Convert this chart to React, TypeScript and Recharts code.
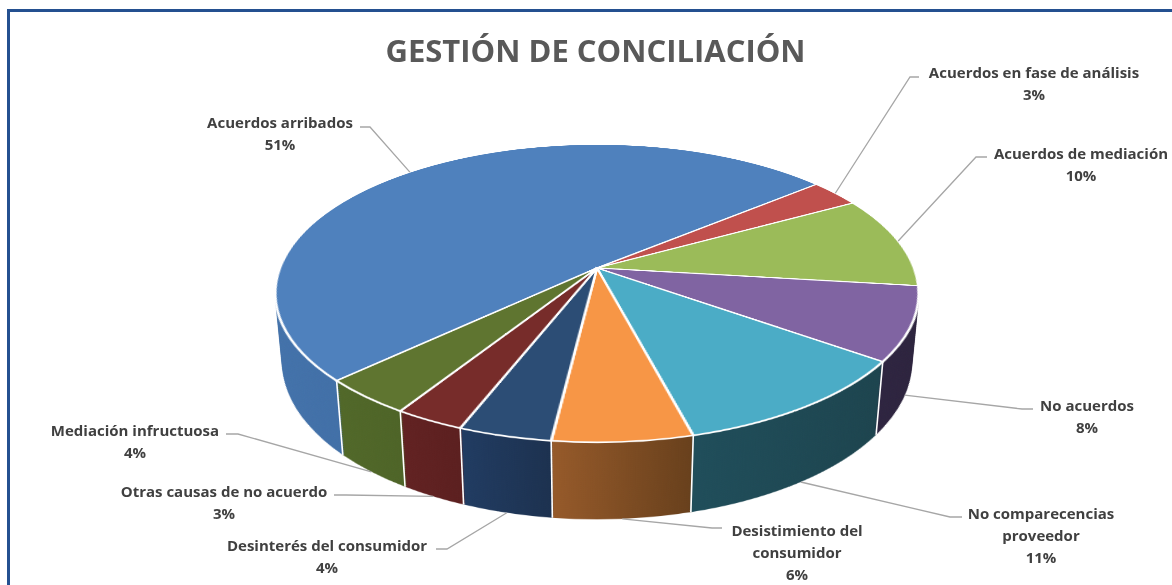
import React from 'react';
import { PieChart, Pie, Cell } from 'recharts';

// ---------- data ----------
const categories = [
  'Acuerdos arribados',
  'Acuerdos en fase de análisis',
  'Acuerdos de mediación',
  'No acuerdos',
  'No comparecencias proveedor',
  'Desistimiento del consumidor',
  'Desinterés del consumidor',
  'Otras causas de no acuerdo',
  'Mediación infructuosa',
];
const shares = [51, 3, 10, 8, 11, 6, 4, 3, 4];
const labelText = [
  'Acuerdos arribados',
  'Acuerdos en fase de análisis',
  'Acuerdos de mediación',
  'No acuerdos',
  'No comparecencias\nproveedor',
  'Desistimiento del\nconsumidor',
  'Desinterés del consumidor',
  'Otras causas de no acuerdo',
  'Mediación infructuosa',
];

// ---------- styles ----------
const topColors = ['#4F81BD', '#C0504D', '#9BBB59', '#8064A2', '#4BACC6', '#F79646', '#2C4D75', '#772C2A', '#5F7530'];
const sideColors: [string, string][] = [
  ['#4372AA', '#3A6398'],
  ['#8E3B39', '#7A302E'],
  ['#73893F', '#64793A'],
  ['#382C4E', '#2C233D'],
  ['#215260', '#1D444E'],
  ['#965A2A', '#68401C'],
  ['#213C62', '#1A2C46'],
  ['#622222', '#4E1A1A'],
  ['#516829', '#455923'],
];
// label boxes: text centre x, first-line centre y, stub (near text -> far end) and stub y
const labelLayout = [
  { x: 280, y: 122, s0: 360, s1: 370, sy: 127 },
  { x: 1034, y: 72, s0: 919, s1: 910, sy: 77 },
  { x: 1081, y: 153, s0: 987, s1: 976, sy: 157 },
  { x: 1087, y: 405, s0: 1033, s1: 1022, sy: 409 },
  { x: 1041, y: 513, s0: 962, s1: 950, sy: 517 },
  { x: 797, y: 530, s0: 722, s1: 712, sy: 528 },
  { x: 327, y: 545, s0: 436, s1: 447, sy: 549 },
  { x: 224, y: 491, s0: 334, s1: 346, sy: 495 },
  { x: 135, y: 430, s0: 226, s1: 238, sy: 434 },
];

const data = categories.map((name, i) => ({ name, value: shares[i] }));

// ---------- geometry of the tilted pie ----------
const CX = 597;
const CY = 268;
const R = 317;
const DEPTH = 78;
const TILT = 62.85;
const PERSP = 1660;
const SIZE = 680;
const START = 223.5;
const RAD = Math.PI / 180;
const COS_T = Math.cos(TILT * RAD);
const SIN_T = Math.sin(TILT * RAD);
const SIL = (R * SIN_T) / PERSP;

const depthSteps: number[] = [];
for (let t = DEPTH; t > 0; t -= 2) depthSteps.push(t);

function project(angleDeg: number, t: number, r: number = R) {
  const a = angleDeg * RAD;
  const x = r * Math.cos(a);
  const y = -r * Math.sin(a);
  const yp = y * COS_T + t * SIN_T;
  const zp = y * SIN_T - t * COS_T;
  const f = PERSP / (PERSP - zp);
  return { x: CX + x * f, y: CY + yp * f };
}

const FONT = "'Open Sans', 'DejaVu Sans', sans-serif";

function Disc({ t, top }: { t: number; top: boolean }) {
  return (
    <div
      style={{
        position: 'absolute',
        left: CX - SIZE / 2,
        top: CY - SIZE / 2,
        width: SIZE,
        height: SIZE,
        transform: `rotateX(${TILT}deg) translateZ(${-t}px)`,
        transformOrigin: '50% 50%',
      }}
    >
      <PieChart width={SIZE} height={SIZE} margin={{ top: 0, right: 0, bottom: 0, left: 0 }}>
        <Pie
          data={data}
          dataKey="value"
          nameKey="name"
          cx={SIZE / 2}
          cy={SIZE / 2}
          innerRadius={0}
          outerRadius={R}
          startAngle={START}
          endAngle={START - 360}
          stroke={top ? '#ffffff' : 'none'}
          strokeWidth={top ? 2.5 : 0}
          isAnimationActive={false}
          label={false}
          labelLine={false}
        >
          {data.map((d, i) => (
            <Cell key={d.name} fill={top ? topColors[i] : `url(#side-${i})`} />
          ))}
        </Pie>
      </PieChart>
    </div>
  );
}

const renderLabel = (p: any) => {
  const i: number = p.index;
  const L = labelLayout[i];
  const front = Math.sin(p.midAngle * RAD) < 0;
  const anchor = project(p.midAngle, front ? DEPTH : 0);
  const showSep = Math.sin(p.startAngle * RAD) < -SIL - 0.02;
  const s0 = project(p.startAngle, 0);
  const s1 = project(p.startAngle, DEPTH);
  const lines = [...labelText[i].split('\n'), `${Math.round(p.percent * 100)}%`];
  return (
    <g key={`lbl-${i}`}>
      {showSep && (
        <line x1={s0.x} y1={s0.y} x2={s1.x} y2={s1.y} stroke="#ffffff" strokeWidth={1.6} />
      )}
      <polyline
        points={`${L.s0},${L.sy} ${L.s1},${L.sy} ${anchor.x},${anchor.y}`}
        fill="none"
        stroke="#A6A6A6"
        strokeWidth={1.3}
      />
      {lines.map((ln, k) => (
        <text
          key={k}
          x={L.x}
          y={L.y + k * 22.3 + 5.5}
          textAnchor="middle"
          fontFamily={FONT}
          fontWeight={700}
          fontSize={15}
          fill="#404040"
        >
          {ln}
        </text>
      ))}
    </g>
  );
};

export default function App() {
  return (
    <div
      style={{
        position: 'absolute',
        left: 0,
        top: 0,
        width: 1172,
        height: 585,
        overflow: 'hidden',
        background: '#ffffff',
      }}
    >
      <svg width={0} height={0} style={{ position: 'absolute' }}>
        <defs>
          {sideColors.map(([a, b], i) => (
            <linearGradient key={i} id={`side-${i}`} x1="0" y1="0" x2="1" y2="0">
              <stop offset="0" stopColor={a} />
              <stop offset="1" stopColor={b} />
            </linearGradient>
          ))}
        </defs>
      </svg>

      <div
        style={{
          position: 'absolute',
          left: 7,
          top: 9,
          width: 1300,
          height: 700,
          border: '3.5px solid #245090',
          boxSizing: 'border-box',
        }}
      />

      <div
        style={{
          position: 'absolute',
          left: 0,
          top: 0,
          width: 1172,
          height: 585,
          perspective: `${PERSP}px`,
          perspectiveOrigin: `${CX}px ${CY}px`,
        }}
      >
        {depthSteps.map((t) => (
          <Disc key={t} t={t} top={false} />
        ))}
        <Disc t={0} top />
      </div>

      <svg width={1172} height={585} style={{ position: 'absolute', left: 0, top: 0 }}>
        <text
          x={595.5}
          y={62}
          textAnchor="middle"
          fontFamily={FONT}
          fontWeight={700}
          fontSize={31}
          fill="#595959"
        >
          GESTIÓN DE CONCILIACIÓN
        </text>
      </svg>

      <div style={{ position: 'absolute', left: 0, top: 0 }}>
        <PieChart width={1172} height={585} margin={{ top: 0, right: 0, bottom: 0, left: 0 }}>
          <Pie
            data={data}
            dataKey="value"
            nameKey="name"
            cx={CX}
            cy={CY}
            outerRadius={R}
            startAngle={START}
            endAngle={START - 360}
            fill="none"
            stroke="none"
            isAnimationActive={false}
            label={renderLabel}
            labelLine={false}
          >
            {data.map((d) => (
              <Cell key={d.name} fill="none" stroke="none" />
            ))}
          </Pie>
        </PieChart>
      </div>
    </div>
  );
}
